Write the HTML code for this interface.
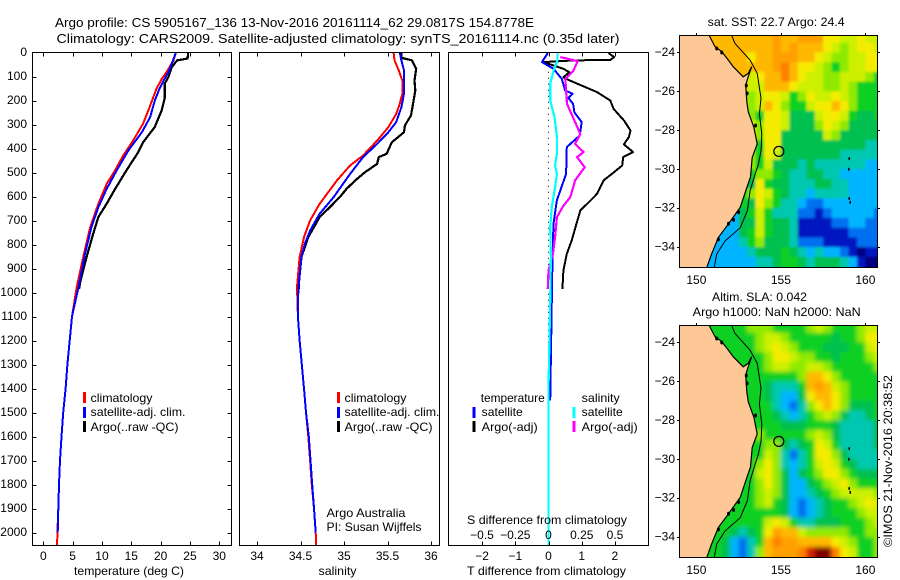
<!DOCTYPE html>
<html>
<head>
<meta charset="utf-8">
<title>Argo profile</title>
<style>
html,body{margin:0;padding:0;background:#fff;width:900px;height:580px;overflow:hidden}
svg{display:block}
text{font-family:"Liberation Sans",sans-serif;font-size:12px;fill:#000}
</style>
</head>
<body>
<svg id="chart" xmlns="http://www.w3.org/2000/svg" width="900" height="580" viewBox="0 0 900 580">
<defs>
<clipPath id="clipA"><rect x="679.5" y="35.5" width="198" height="232"/></clipPath>
<clipPath id="clipB"><rect x="679.5" y="325.5" width="198" height="232"/></clipPath>
<clipPath id="clipP1"><rect x="32.5" y="52.5" width="199" height="493"/></clipPath>
<clipPath id="clipP2"><rect x="239.5" y="52.5" width="200" height="493"/></clipPath>
<clipPath id="clipP3"><rect x="448.5" y="52.5" width="200" height="493"/></clipPath>
<filter id="blurA" x="-5%" y="-5%" width="110%" height="110%"><feGaussianBlur stdDeviation="1.4"/></filter>
<filter id="blurB" x="-5%" y="-5%" width="110%" height="110%"><feGaussianBlur stdDeviation="2.2"/></filter>
</defs>

<text x="55" y="27" textLength="479" lengthAdjust="spacingAndGlyphs" style="font-size:13px">Argo profile: CS 5905167_136 13-Nov-2016 20161114_62 29.0817S 154.8778E</text>
<text x="56.5" y="43" textLength="563" lengthAdjust="spacingAndGlyphs" style="font-size:13px">Climatology: CARS2009. Satellite-adjusted climatology: synTS_20161114.nc (0.35d later)</text>

<g id="marks"></g>

<g>
<rect x="83" y="392" width="3" height="11" fill="#f00"/>
<text x="90.5" y="402" textLength="62" lengthAdjust="spacingAndGlyphs">climatology</text>
<rect x="83" y="407" width="3" height="11" fill="#00f"/>
<text x="90.5" y="416" textLength="95" lengthAdjust="spacingAndGlyphs">satellite-adj. clim.</text>
<rect x="83" y="421" width="3" height="11" fill="#000"/>
<text x="90.5" y="431" textLength="88" lengthAdjust="spacingAndGlyphs">Argo(..raw -QC)</text>
</g>
<g>
<rect x="337" y="392" width="3" height="11" fill="#f00"/>
<text x="344.5" y="402" textLength="62" lengthAdjust="spacingAndGlyphs">climatology</text>
<rect x="337" y="407" width="3" height="11" fill="#00f"/>
<text x="344.5" y="416" textLength="95" lengthAdjust="spacingAndGlyphs">satellite-adj. clim.</text>
<rect x="337" y="421" width="3" height="11" fill="#000"/>
<text x="344.5" y="431" textLength="88" lengthAdjust="spacingAndGlyphs">Argo(..raw -QC)</text>
<text x="326.5" y="517" textLength="79" lengthAdjust="spacingAndGlyphs">Argo Australia</text>
<text x="326.5" y="531" textLength="95" lengthAdjust="spacingAndGlyphs">PI: Susan Wijffels</text>
</g>
<g>
<text x="480.7" y="402" textLength="64" lengthAdjust="spacingAndGlyphs">temperature</text>
<rect x="472.5" y="407" width="3" height="11" fill="#00f"/>
<text x="481.7" y="416" textLength="41" lengthAdjust="spacingAndGlyphs">satellite</text>
<rect x="472.5" y="421" width="3" height="11" fill="#000"/>
<text x="481.7" y="431" textLength="56" lengthAdjust="spacingAndGlyphs">Argo(-adj)</text>
<text x="581.7" y="402" textLength="38" lengthAdjust="spacingAndGlyphs">salinity</text>
<rect x="572.5" y="407" width="3" height="11" fill="#0ff"/>
<text x="581.7" y="416" textLength="41" lengthAdjust="spacingAndGlyphs">satellite</text>
<rect x="572.5" y="421" width="3" height="11" fill="#f0f"/>
<text x="581.7" y="431" textLength="56" lengthAdjust="spacingAndGlyphs">Argo(-adj)</text>
</g>

<text x="74" y="575" textLength="110" lengthAdjust="spacingAndGlyphs">temperature (deg C)</text>
<text x="318.5" y="575" textLength="38" lengthAdjust="spacingAndGlyphs">salinity</text>
<text x="467" y="575" textLength="159" lengthAdjust="spacingAndGlyphs">T difference from climatology</text>
<text x="467" y="524" textLength="160" lengthAdjust="spacingAndGlyphs">S difference from climatology</text>

<text x="707.7" y="26" textLength="137" lengthAdjust="spacingAndGlyphs">sat. SST: 22.7 Argo: 24.4</text>
<text x="712" y="301" textLength="95" lengthAdjust="spacingAndGlyphs">Altim. SLA: 0.042</text>
<text x="692.7" y="316" textLength="168" lengthAdjust="spacingAndGlyphs">Argo h1000: NaN h2000: NaN</text>
<text x="0" y="0" transform="translate(892,547) rotate(-90)" textLength="172" lengthAdjust="spacingAndGlyphs">©IMOS 21-Nov-2016 20:38:52</text>
</svg>

<script>
/* ---------- temperature profiles ---------- */
const climTDepth = [0,33,82,110,151,242,297,367,430,492,547,630,728,853,978,1100,1200,1300,1400,1500,1600,1700,1800,1900,2000,2054];
const climT = [22.6,22.2,21,20.2,19.3,17.9,17,15.3,13.6,12.2,10.8,9.4,8,6.8,5.7,4.9,4.5,4.1,3.8,3.4,3.1,2.85,2.67,2.55,2.4,2.35];
const satTDepth = [0,47,82,117,151,200,270,332,408,492,568,644,728,839,978,1100,1200,1300,1400,1500,1600,1700,1800,1900,2000];
const satT = [22.6,21.9,21.3,20.5,19.8,19,18.2,16.8,14.5,12.5,10.8,9.4,8.2,7.1,6,4.9,4.5,4.1,3.8,3.4,3.1,2.85,2.67,2.55,2.45];
const argoTDepth = [0,25,33,61,103,130,190,240,310,375,415,490,570,630,685,755,850,960,985];
const argoT = [24.7,24.6,22.8,21.9,21.3,20.7,20.7,20.2,19,17,16.2,14.2,12.2,10.8,9.4,8.5,7.4,6.25,6.1];

/* ---------- salinity profiles ---------- */
const climSDepth = [0,33,75,117,172,214,256,311,367,429,471,533,631,700,769,853,978,1100,1200,1300,1400,1500,1600,1700,1800,1900,2000,2054];
const climS = [35.57,35.58,35.63,35.67,35.67,35.64,35.6,35.51,35.38,35.22,35.07,34.92,34.72,34.61,34.54,34.49,34.46,34.47,34.49,34.515,34.54,34.563,34.59,34.61,34.63,34.655,34.675,34.68];
const satSDepth = [0,33,75,172,228,290,332,381,436,506,603,672,742,797,853,964,992,1100,1200,1300,1400,1500,1600,1700,1800,1900,2000];
const satS = [35.64,35.66,35.69,35.69,35.66,35.6,35.51,35.38,35.22,35.07,34.88,34.72,34.61,34.55,34.51,34.48,34.475,34.47,34.49,34.515,34.54,34.563,34.595,34.615,34.635,34.655,34.675];
const argoSDepth = [0,22,33,68,117,158,200,262,304,332,374,422,436,464,499,533,568,603,651,686,769,853,964,985];
const argoS = [35.66,35.66,35.78,35.83,35.81,35.82,35.8,35.77,35.7,35.69,35.55,35.49,35.4,35.38,35.24,35.13,35.03,34.95,34.82,34.72,34.59,34.51,34.48,34.48];

/* ---------- difference profiles ---------- */
const diffArgoTDepth = [3,19,31,33,40,68,82,103,114,165,200,235,283,325,353,383,415,436,471,506,533,589,624,658,714,783,839,908,985];
const diffArgoT = [1.81,1.98,1.86,0.76,-0.15,0.45,0.63,0.45,0.6,1.46,1.86,1.96,2.27,2.47,2.42,2.27,2.55,2.25,2.22,1.91,1.66,1.46,1.21,0.96,0.84,0.7,0.55,0.45,0.42];
const diffSatTDepth = [3,40,68,110,158,172,189,214,249,290,346,394,506,617,714,853,1033,1450];
const diffSatT = [-0.02,-0.2,0.15,0.4,0.5,0.73,0.6,0.74,0.78,1,0.94,0.55,0.53,0.25,0.15,0.12,0.1,0.05];
const diffSatSDepth = [3,33,75,131,200,269,353,422,471,506,561,644,728,853,1033,1400,2054];
const diffSatS = [0.068,0.068,0.038,0.013,0.013,0.045,0.063,0.063,0.05,0.063,0.05,0.025,0.013,0.018,0.013,0,0];
const diffArgoSDepth = [19,36,75,110,214,276,339,381,415,436,478,533,603,638,686,769,839,908,985];
const diffArgoS = [0.088,0.219,0.189,0.126,0.139,0.189,0.239,0.2,0.264,0.214,0.272,0.2,0.164,0.113,0.063,0.05,0.033,0,-0.005];

/* ---------- tick labels ---------- */
const depthTicks = [0,100,200,300,400,500,600,700,800,900,1000,1100,1200,1300,1400,1500,1600,1700,1800,1900,2000];
const tempTicks = [0,5,10,15,20,25,30];
const salTicks = [34,34.5,35,35.5,36];
const diffTTicks = [-2,-1,0,1,2];
const diffSTicks = [-0.5,-0.25,0,0.25,0.5];
const lonTicks = [150,155,160];
const latTicks = [-24,-26,-28,-30,-32,-34];

/* ---------- map data: colour-scale level per 0.5 degree cell, north to south ---------- */
const mapLonStart = 149;
const mapLatStart = -23;
const mapCellDeg = 0.5;
const levelColors = ['#000080','#0018c0','#0070f0','#00b4ff','#00c8b0','#00c050','#10d020','#90ea00','#ccf000','#f4ec00','#ffb800','#ffa000','#ff8000','#d02000','#800000'];
const sstLevels = [
[10,10,10,10,10,10,10,10,10,10,10,11,10,10,11,11,11,9,9,8,8,9,8,8],
[10,10,10,10,10,10,10,10,10,10,10,11,10,11,10,10,10,9,8,7,8,9,9,8],
[10,10,10,10,10,10,10,10,9,10,10,11,11,11,10,10,9,8,7,7,8,8,9,9],
[10,10,10,10,10,10,10,10,10,10,10,11,12,10,9,9,8,7,6,7,8,8,9,9],
[10,10,10,10,10,10,10,10,8,9,10,10,12,10,9,8,8,7,7,8,8,8,7,6],
[10,10,10,10,10,10,10,10,8,8,10,10,10,9,8,8,8,7,7,8,7,6,6,6],
[10,10,10,10,10,10,10,10,7,8,9,9,8,6,7,9,8,8,9,8,7,6,6,6],
[10,10,10,10,10,10,10,10,7,8,10,9,7,6,6,8,9,9,10,9,7,6,6,6],
[10,10,10,10,10,10,10,10,7,6,9,9,8,5,5,5,8,9,9,8,6,5,5,6],
[8,8,8,8,8,8,8,8,8,7,9,9,8,5,5,5,7,9,8,7,5,5,5,5],
[8,8,8,8,8,8,8,8,8,7,9,9,5,5,5,5,5,8,7,5,5,5,5,5],
[7,7,7,7,7,7,7,7,7,6,9,9,5,5,5,5,5,5,5,5,5,5,4,4],
[7,7,7,7,7,7,7,7,7,6,9,8,5,5,5,5,5,5,5,4,4,4,4,4],
[7,7,7,7,7,7,7,7,7,6,8,5,5,5,4,5,4,4,4,4,4,4,3,3],
[6,6,6,6,6,6,6,6,6,7,7,6,5,4,4,5,5,4,4,3,3,3,3,3],
[6,6,6,6,6,6,6,6,5,9,6,5,5,4,4,4,5,5,4,4,3,3,3,3],
[6,6,6,6,6,6,6,6,7,9,8,6,5,4,4,3,4,4,4,4,3,3,3,3],
[6,6,6,6,6,6,6,6,5,9,7,6,4,4,3,2,2,3,3,3,3,3,3,3],
[3,3,3,3,3,3,3,5,6,8,6,4,4,4,2,2,1,2,3,3,3,3,3,2],
[3,3,3,3,3,3,3,5,5,8,6,5,5,4,1,1,1,1,2,2,3,3,2,2],
[3,3,3,3,3,3,3,5,6,8,6,5,5,4,1,1,1,1,1,1,2,2,2,2],
[3,3,3,3,3,3,3,4,6,7,5,5,5,4,2,2,2,1,1,1,1,2,2,2],
[3,3,3,3,3,3,3,3,4,5,5,5,6,5,4,3,4,3,3,2,1,0,1,1],
[3,3,3,3,3,3,3,3,3,4,4,5,6,6,5,4,5,5,5,4,3,1,0,0]
];
const slaLevels = [
[6,6,6,6,6,6,6,6,7,7,7,6,6,6,6,7,8,7,6,6,6,7,8,8],
[6,6,6,6,6,6,6,6,6,7,8,8,7,6,6,6,6,6,5,6,6,7,9,9],
[6,6,6,6,6,6,6,6,6,7,8,9,8,7,6,6,6,5,5,5,6,6,8,9],
[6,6,6,6,6,6,6,6,6,6,7,9,9,8,7,7,6,6,5,6,6,6,7,8],
[6,6,6,6,6,6,6,6,6,6,7,8,8,7,7,8,8,7,6,6,6,6,6,7],
[6,6,6,6,6,6,6,6,6,6,6,6,6,6,7,10,10,9,7,6,6,6,6,6],
[6,6,6,6,6,6,6,6,6,6,5,4,4,4,6,10,11,10,8,7,6,6,6,6],
[6,6,6,6,6,6,6,6,6,6,5,4,3,3,5,9,10,10,9,7,6,6,6,6],
[6,6,6,6,6,6,6,6,6,6,6,4,3,2,4,7,9,10,9,7,5,5,5,6],
[6,6,6,6,6,6,6,6,6,6,6,5,4,3,4,6,7,8,7,5,4,4,5,6],
[6,6,6,6,6,6,6,6,6,6,6,6,5,5,5,6,6,6,5,4,4,4,4,5],
[6,6,6,6,6,6,6,6,6,7,6,6,6,6,6,7,8,7,5,4,4,4,4,5],
[6,6,6,6,6,6,6,6,6,6,7,7,5,4,5,6,9,8,6,4,4,4,4,5],
[6,6,6,6,6,6,6,6,6,6,8,7,4,2,4,6,9,9,7,5,4,4,4,4],
[6,6,6,6,6,6,6,6,6,7,9,7,4,3,4,6,8,9,8,6,5,4,4,4],
[6,6,6,6,6,6,6,6,6,8,9,7,5,3,5,6,7,9,9,7,6,5,5,5],
[6,6,6,6,6,6,6,6,6,7,9,7,5,3,3,5,6,7,8,9,7,6,6,6],
[6,6,6,6,6,6,6,6,6,7,8,7,5,3,3,4,5,6,7,8,8,8,8,7],
[6,6,6,6,6,6,6,6,6,7,8,6,5,3,2,3,4,5,6,6,7,8,9,8],
[6,6,6,6,6,6,6,6,6,6,6,6,5,3,2,3,4,5,6,6,6,7,8,8],
[6,6,6,6,6,6,6,6,6,6,8,9,8,6,4,4,5,5,5,6,6,6,7,8],
[6,6,6,6,6,6,5,4,5,6,9,11,10,10,8,7,7,7,7,7,6,6,7,7],
[6,6,6,6,6,5,3,2,4,6,10,12,11,11,10,10,10,10,9,8,7,6,6,7],
[6,6,6,6,6,5,3,2,4,7,10,11,11,11,12,13,14,14,12,9,8,6,6,7]
];
const coastLon = [150.76,151.1,151.5,151.89,152.18,152.77,153.07,153.27,153.05,152.92,152.98,153.07,153.4,153.6,153.3,153.2,153.0,152.6,151.9,151.3,150.9,150.6];
const coastLat = [-23.13,-23.7,-23.96,-24.39,-24.73,-25.25,-25.07,-24.73,-25.3,-25.67,-26.53,-27.05,-27.85,-28.7,-29.4,-30.4,-30.9,-31.95,-32.8,-33.5,-34.35,-35.08];
const isobathLon = [152.09,152.28,153.17,153.6,153.82,153.73,153.87,153.83,153.67,153.48,153.18,153.02,152.59,151.7,151.2,151.05];
const isobathLat = [-23.13,-23.53,-24.39,-25.07,-26.35,-27.16,-28.19,-29.04,-29.73,-30.24,-31.1,-32.13,-33,-33.68,-34.36,-35.08];
const reefLon = [151.2,151.5,152.95,153,153.5,152.5,152.2,151.9,151.3,159.04,159.02,159.04,159.1];
const reefLat = [-23.8,-24,-25.7,-26.1,-27.75,-32.2,-32.6,-32.8,-33.6,-29.45,-30,-31.5,-31.7];
const profileLon = 154.8778;
const profileLat = -29.0817;

/* ---------- axis functions ---------- */
const SVGNS = 'http://www.w3.org/2000/svg';
const marks = document.getElementById('marks');
function yDepth(d){ return 52.5 + d * 0.24; }
function xTemp(t){ return 43.3 + t * 5.867; }
function xSal(s){ return 257 + (s - 34) * 87; }
function xDiffT(t){ return 548.5 + t * 33.2; }
function xDiffS(s){ return 548.5 + s * 133; }
function xLon(lon){ return 679.5 + (lon - 149) * 16.9; }
function yLat(lat, top){ return top + (lat + 23.13) * -19.47 + 0.5; }

function make(tag, parent, attrs){
  const el = document.createElementNS(SVGNS, tag);
  for (const k in attrs) el.setAttribute(k, attrs[k]);
  parent.appendChild(el);
  return el;
}
function addLabel(txt, x, y, anchor, name){
  const el = make('text', marks, {x:x, y:y, 'text-anchor':anchor});
  
  
  el.textContent = txt;
  return el;
}
function addTick(x1, y1, x2, y2, name){
  const el = make('line', marks, {x1:x1, y1:y1, x2:x2, y2:y2, stroke:'#000', 'stroke-width':1, 'shape-rendering':'crispEdges'});
  
  
}
function addFrame(x, y, w, h, name){
  const el = make('rect', marks, {x:x, y:y, width:w, height:h, fill:'none', stroke:'#000', 'stroke-width':1, 'shape-rendering':'crispEdges'});
  
  
}
function addProfile(values, depths, xf, color, width, clip, name){
  const pts = values.map(function(v, i){ return xf(v).toFixed(1) + ',' + yDepth(depths[i]).toFixed(1); }).join(' ');
  const el = make('polyline', marks, {points:pts, fill:'none', stroke:color, 'stroke-width':width, 'stroke-linejoin':'round', 'clip-path':'url(#' + clip + ')', 'shape-rendering':'crispEdges'});
  
  
}
function fmt(v){ return String(v).replace('-', '\u2212'); }

/* ---------- profile panels ---------- */
addProfile(argoT, argoTDepth, xTemp, '#000', 2.2, 'clipP1', 'temperature-argo-line');
addProfile(climT, climTDepth, xTemp, '#f00', 2, 'clipP1', 'temperature-climatology-line');
addProfile(satT, satTDepth, xTemp, '#00f', 2, 'clipP1', 'temperature-satellite-line');
addProfile(argoS, argoSDepth, xSal, '#000', 2.2, 'clipP2', 'salinity-argo-line');
addProfile(climS, climSDepth, xSal, '#f00', 2, 'clipP2', 'salinity-climatology-line');
addProfile(satS, satSDepth, xSal, '#00f', 2, 'clipP2', 'salinity-satellite-line');

const zeroLine = make('line', marks, {x1:xDiffT(0), y1:yDepth(80), x2:xDiffT(0), y2:yDepth(1400), stroke:'#000', 'stroke-width':1, 'stroke-dasharray':'1 5'});


addProfile(diffArgoT, diffArgoTDepth, xDiffT, '#000', 2, 'clipP3', 'difference-t-argo-line');
addProfile(diffSatT, diffSatTDepth, xDiffT, '#00f', 2, 'clipP3', 'difference-t-satellite-line');
addProfile(diffArgoS, diffArgoSDepth, xDiffS, '#f0f', 2.2, 'clipP3', 'difference-s-argo-line');
addProfile(diffSatS, diffSatSDepth, xDiffS, '#0ff', 2.2, 'clipP3', 'difference-s-satellite-line');

addFrame(32.5, 52.5, 199, 493, 'temperature-panel-frame');
addFrame(239.5, 52.5, 200, 493, 'salinity-panel-frame');
addFrame(448.5, 52.5, 200, 493, 'difference-panel-frame');

depthTicks.forEach(function(d){
  const y = Math.round(yDepth(d)) + 0.5;
  if (d > 0) {
    addTick(32.5, y, 36.5, y, 'depth-tick-left');
    addTick(227.5, y, 231.5, y, 'depth-tick-right');
  }
  addLabel(String(d), 27, yDepth(d) + 3.5, 'end', 'depth-tick-label');
});
tempTicks.forEach(function(t){
  const x = Math.round(xTemp(t)) + 0.5;
  addTick(x, 52.5, x, 56.5, 'temperature-tick-top');
  addTick(x, 541.5, x, 545.5, 'temperature-tick-bottom');
  addLabel(String(t), xTemp(t), 560, 'middle', 'temperature-tick-label');
});
salTicks.forEach(function(s){
  const x = Math.round(xSal(s)) + 0.5;
  addTick(x, 52.5, x, 56.5, 'salinity-tick-top');
  addTick(x, 541.5, x, 545.5, 'salinity-tick-bottom');
  addLabel(String(s), xSal(s), 560, 'middle', 'salinity-tick-label');
});
diffTTicks.forEach(function(t){
  const x = Math.round(xDiffT(t)) + 0.5;
  addTick(x, 52.5, x, 56.5, 'difference-tick-top');
  addTick(x, 541.5, x, 545.5, 'difference-tick-bottom');
  addLabel(fmt(t), xDiffT(t), 560, 'middle', 't-difference-tick-label');
});
diffSTicks.forEach(function(s){
  addLabel(fmt(s), xDiffS(s), 539, 'middle', 's-difference-tick-label');
});

/* ---------- maps ---------- */
function addMap(levels, top, clip, blur, name){
  const root = make('g', marks, {'clip-path':'url(#' + clip + ')'});
  
  
  const cells = make('g', root, {filter:'url(#' + blur + ')'});
  levels.forEach(function(row, r){
    row.forEach(function(level, c){
      const lon = mapLonStart + c * mapCellDeg;
      const lat = mapLatStart - r * mapCellDeg;
      const x = xLon(lon);
      const y = yLat(lat, top);
      const w = xLon(lon + mapCellDeg) - x + (c === row.length - 1 ? 12 : 0.6);
      const h = yLat(lat - mapCellDeg, top) - y + (r === levels.length - 1 ? 12 : 0.6);
      const cell = make('rect', cells, {x:x.toFixed(1), y:(y - (r === 0 ? 12 : 0)).toFixed(1), width:w.toFixed(1), height:(h + (r === 0 ? 12 : 0)).toFixed(1), fill:levelColors[level]});
      
      
    });
  });
  const coastPts = coastLon.map(function(lon, i){ return xLon(lon).toFixed(1) + ',' + yLat(coastLat[i], top).toFixed(1); });
  const land = make('polygon', root, {points:coastPts.join(' ') + ' ' + xLon(148).toFixed(1) + ',' + yLat(-35.2, top).toFixed(1) + ' ' + xLon(148).toFixed(1) + ',' + yLat(-23, top).toFixed(1), fill:'#fdc896'});
  
  
  const coast = make('polyline', root, {points:coastPts.join(' '), fill:'none', stroke:'#000', 'stroke-width':1.2});
  
  
  const iso = make('polyline', root, {points:isobathLon.map(function(lon, i){ return xLon(lon).toFixed(1) + ',' + yLat(isobathLat[i], top).toFixed(1); }).join(' '), fill:'none', stroke:'#000', 'stroke-width':1});
  
  
  reefLon.forEach(function(lon, i){
    const reef = make('ellipse', root, {cx:xLon(lon), cy:yLat(reefLat[i], top), rx:lon > 158 ? 0.8 : 1.5, ry:lon > 158 ? 1.6 : 2, fill:'#000'});
    
    
  });
  const dot = make('circle', root, {cx:xLon(profileLon), cy:yLat(profileLat, top), r:5, fill:'none', stroke:'#000', 'stroke-width':1.2});
  
  
  addFrame(679.5, top + 0.5, 198, 232, name + '-frame');
  lonTicks.forEach(function(lon){
    const x = Math.round(xLon(lon)) + 0.5;
    addTick(x, top - 2, x, top + 0.5, 'longitude-tick');
    addLabel(String(lon), xLon(lon), top + 249, 'middle', 'longitude-tick-label');
  });
  latTicks.forEach(function(lat){
    const y = Math.round(yLat(lat, top)) + 0.5;
    addTick(677, y, 679.5, y, 'latitude-tick-left');
    addTick(877.5, y, 880, y, 'latitude-tick-right');
    addLabel(fmt(lat), 675, yLat(lat, top) + 3.5, 'end', 'latitude-tick-label');
  });
}
addMap(sstLevels, 35, 'clipA', 'blurA', 'sst-map');
addMap(slaLevels, 325, 'clipB', 'blurB', 'sla-map');
</script>
</body>
</html>
